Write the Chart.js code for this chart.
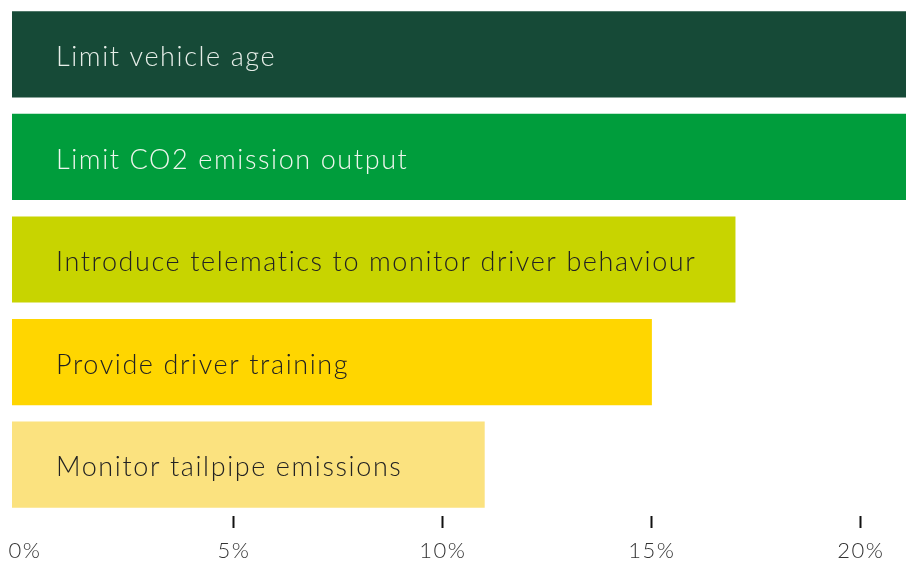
<!DOCTYPE html>
<html>
<head>
<meta charset="utf-8">
<script src="https://cdn.jsdelivr.net/npm/chart.js@4/dist/chart.umd.min.js"></script>
<style>
html,body{margin:0;padding:0;background:#fff;}
#wrap{width:906px;height:563px;position:relative;}
</style>
</head>
<body>
<div id="wrap"><canvas id="c" width="906" height="563"></canvas></div>
<script>
const categories = [
  "Limit vehicle age",
  "Limit CO2 emission output",
  "Introduce telematics to monitor driver behaviour",
  "Provide driver training",
  "Monitor tailpipe emissions"
];
const values = [24, 22, 17, 15, 11];
const barColors = ["#164a37", "#009d3c", "#c8d400", "#ffd600", "#fbe27f"];
const labelColors = ["#e6eee8", "#eef6ee", "#222222", "#222222", "#222222"];
const tickValues = [0, 5, 10, 15, 20];
const xMin = -0.31, xMax = 21.08;

const FONT = "Lato, 'Open Sans', sans-serif";

const insideLabels = {
  id: 'insideLabels',
  afterDatasetsDraw(chart) {
    const ctx = chart.ctx;
    const meta = chart.getDatasetMeta(0);
    ctx.save();
    ctx.font = "300 27px " + FONT;
    ctx.letterSpacing = "1.6px";
    ctx.textBaseline = 'middle';
    ctx.textAlign = 'left';
    meta.data.forEach((bar, i) => {
      ctx.fillStyle = labelColors[i];
      ctx.fillText(categories[i], chart.chartArea.left + 44, bar.y + 3);
    });
    ctx.restore();
  }
};

const tickSpacing = {
  id: 'tickSpacing',
  beforeDraw(chart) { chart.ctx.letterSpacing = "1.5px"; },
  afterDraw(chart) { chart.ctx.letterSpacing = "0px"; }
};

new Chart(document.getElementById('c'), {
  type: 'bar',
  data: {
    labels: categories,
    datasets: [{
      data: values,
      base: xMin,
      backgroundColor: barColors,
      borderWidth: 0,
      barPercentage: 0.84,
      categoryPercentage: 1.0
    }]
  },
  options: {
    indexAxis: 'y',
    responsive: false,
    animation: false,
    layout: { padding: { top: 3, left: 12, right: 0, bottom: -11 } },
    plugins: { legend: { display: false }, tooltip: { enabled: false } },
    scales: {
      y: {
        display: false
      },
      x: {
        min: xMin,
        max: xMax,
        afterBuildTicks(axis) { axis.ticks = tickValues.map(v => ({ value: v })); },
        afterFit(scale) { scale.paddingLeft = 0; scale.paddingRight = 0; },
        border: { display: false },
        grid: {
          drawOnChartArea: false,
          drawTicks: true,
          tickLength: 12,
          tickWidth: 2,
          tickColor: (c) => (c.tick && c.tick.value === 0) ? 'rgba(0,0,0,0)' : '#111'
        },
        ticks: {
          padding: 12,
          color: '#333',
          font: { family: FONT, size: 22, weight: '300', lineHeight: 1.0 },
          maxRotation: 0,
          autoSkip: false,
          callback: (v) => v + '%'
        }
      }
    }
  },
  plugins: [tickSpacing, insideLabels]
});
</script>
</body>
</html>
